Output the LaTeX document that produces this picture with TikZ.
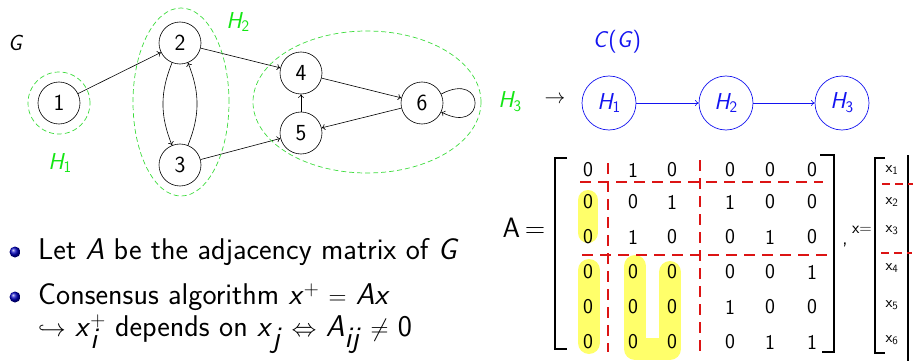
\documentclass[tikz,border=0pt]{standalone}
\usepackage{fontspec}
\usetikzlibrary{arrows.meta}
\renewcommand{\familydefault}{\sfdefault}
\definecolor{hgreen}{RGB}{20,230,20}
\definecolor{dgreen}{RGB}{60,220,60}
\definecolor{cblue}{RGB}{20,20,240}
\definecolor{hred}{RGB}{220,20,20}
\definecolor{hyel}{RGB}{255,255,90}
\newcommand{\vi}[1]{\textit{#1}}
\newcommand{\sbs}[1]{\textsubscript{\upshape #1}}
\begin{document}
\begin{tikzpicture}[x=1pt,y=1pt,
  gnode/.style={circle, draw, line width=0.6pt, minimum size=42pt, inner sep=0pt, font=\fontsize{23}{26}\selectfont},
  cnode/.style={circle, draw=cblue, line width=0.7pt, minimum size=54pt, inner sep=0pt, text=cblue, font=\fontsize{23}{26}\selectfont\itshape},
  edg/.style={-{To[length=3.5pt,width=6pt]}, line width=0.6pt},
  hdash/.style={draw=dgreen, line width=0.7pt, dash pattern=on 5pt off 3pt},
  glabel/.style={text=hgreen, font=\fontsize{23}{26}\selectfont\itshape},
  btext/.style={anchor=west, inner sep=0pt, font=\fontsize{30}{34}\selectfont},
  mtx/.style={font=\fontsize{21}{24}\selectfont},
  rdash/.style={draw=hred, line width=1.3pt, dash pattern=on 11pt off 7pt},
  brk/.style={draw, line width=1.5pt},
  hl/.style={draw=hyel, line cap=round, line join=round, opacity=0.9}
]
\useasboundingbox (0,0) rectangle (914,-361);
% graph G
\node[font=\fontsize{22}{24}\selectfont\itshape] (G) at (15,-43) {G};
\node[gnode] (n1) at (59,-103) {1};
\node[gnode] (n2) at (180,-43) {2};
\node[gnode] (n3) at (180,-165) {3};
\node[gnode] (n4) at (301,-73) {4};
\node[gnode] (n5) at (301,-133) {5};
\node[gnode] (n6) at (422,-103) {6};
\draw[edg] (n1) -- (n2);
\draw[edg] (n2) to[bend right=22] (n3);
\draw[edg] (n3) to[bend right=22] (n2);
\draw[edg] (n2) -- (n4);
\draw[edg] (n3) -- (n5);
\draw[edg] (n5) -- (n4);
\draw[edg] (n4) -- (n6);
\draw[edg] (n6) -- (n5);
\draw[edg] (n6.25) .. controls +(45,24) and +(45,-24) .. (n6.-25);
% SCC ellipses
\draw[hdash] (59,-103) circle [radius=31pt];
\draw[hdash] (181,-102) ellipse [x radius=48pt, y radius=94pt];
\draw[hdash] (367,-102) ellipse [x radius=114pt, y radius=71pt];
\node[glabel] (h1) at (60,-163) {H\sbs{1}};
\node[glabel] (h2) at (238,-22) {H\sbs{2}};
\node[glabel] (h3) at (510,-102) {H\sbs{3}};
% condensation
\node[font=\fontsize{22}{24}\selectfont] (arr) at (555,-100) {$\rightarrow$};
\node[text=cblue, font=\fontsize{23}{26}\selectfont] (CG) at (617,-42) {\vi{C}(\vi{G})};
\node[cnode] (c1) at (609,-103) {H\sbs{1}};
\node[cnode] (c2) at (726,-103) {H\sbs{2}};
\node[cnode] (c3) at (842,-103) {H\sbs{3}};
\draw[edg, draw=cblue] (c1) -- (c2);
\draw[edg, draw=cblue] (c2) -- (c3);
% bullets
\shade[ball color=blue!75!black] (15,-252) circle [radius=5.5pt];
\shade[ball color=blue!75!black] (15,-297) circle [radius=5.5pt];
\node[btext] (b1) at (38,-252) {Let \vi{A} be the adjacency matrix of \vi{G}};
\node[btext] (b2) at (38,-297) {Consensus algorithm \vi{x}$^{+}$ $=$ \vi{Ax}};
\node[btext] (b3) at (38,-334) {$\hookrightarrow$ \vi{x}$^{+}_{\textsf{\textit{i}}}$ depends on \vi{x}$_{\textsf{\textit{j}}}$ $\Leftrightarrow$ \vi{A}$_{\textsf{\textit{ij}}}$ $\neq$ 0};
% highlights
\draw[hl, line width=20pt] (588,-200) -- (588,-233);
\draw[hl, line width=22pt] (589,-270) -- (589,-343);
\draw[hl, line width=22pt] (635,-266) -- (635,-349) -- (670,-349) -- (670,-272);
% matrix A
\node[font=\fontsize{28}{30}\selectfont] (Aeq) at (524,-228) {A\,=};
\draw[brk] (567,-158) -- (555,-158) -- (555,-349) -- (567,-349);
\draw[brk] (820,-155) -- (834,-155) -- (834,-352) -- (822,-352);
\foreach \r/\y in {1/170,2/202,3/237,4/272,5/307,6/342}{
  \foreach \c/\x in {1/588,2/633,3/672,4/730,5/770,6/812}{
    \coordinate (m\r\c) at (\x,-\y);
  }
}
\foreach \r/\vals in {1/{0,1,0,0,0,0},2/{0,0,1,1,0,0},3/{0,1,0,0,1,0},4/{0,0,0,0,0,1},5/{0,0,0,1,0,0},6/{0,0,0,0,1,1}}{
  \foreach \v [count=\c] in \vals {
    \node[mtx] at (m\r\c) {\v};
  }
}
\draw[rdash] (580,-182) -- (823,-182);
\draw[rdash] (582,-255) -- (827,-255);
\draw[rdash] (608,-163) -- (608,-352);
\draw[rdash] (700,-160) -- (700,-354);
\node[font=\fontsize{20}{22}\selectfont] (comma) at (845,-245) {,};
\node[font=\fontsize{17}{20}\selectfont] (xeq) at (862,-230) {x=};
% vector x
\draw[brk] (885,-158) -- (875,-158) -- (875,-353) -- (885,-353);
\draw[brk] (908,-155) -- (908,-361);
\foreach \i/\y in {1/170,2/202,3/230,4/268,5/305,6/340}{
  \node[font=\fontsize{16}{18}\selectfont] (x\i) at (892,-\y) {x\textsubscript{\i}};
}
\draw[rdash, dash pattern=on 8pt off 5pt] (882,-184) -- (913,-184);
\draw[rdash, dash pattern=on 8pt off 5pt] (881,-253) -- (912,-253);
\end{tikzpicture}
\end{document}
